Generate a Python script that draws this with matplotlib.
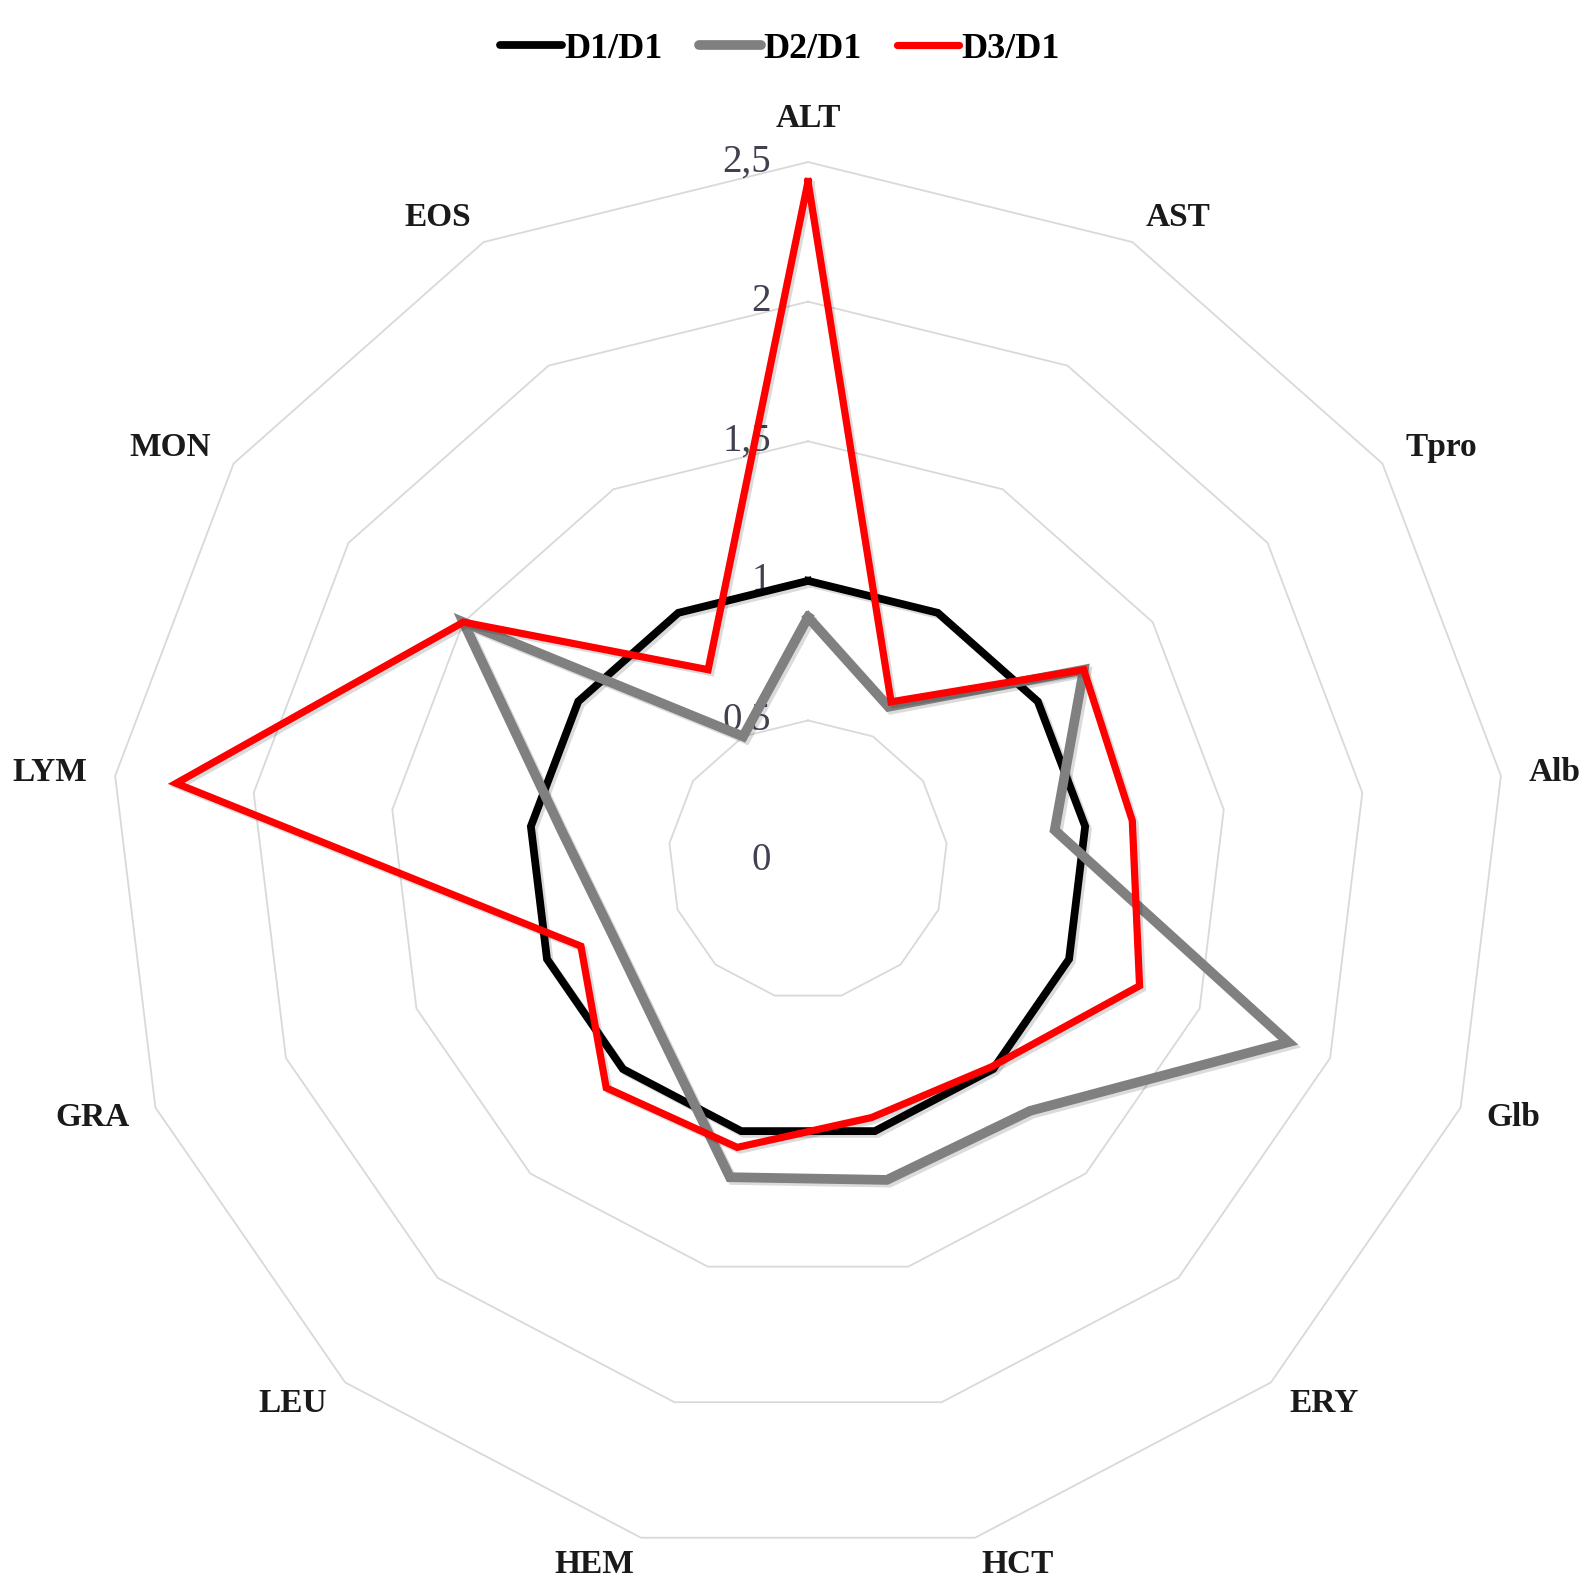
import matplotlib
matplotlib.use('Agg')
import matplotlib.pyplot as plt
import matplotlib.patheffects as pe
from matplotlib import transforms
from matplotlib.lines import Line2D
import numpy as np

# 데이터
categories = ['ALT', 'AST', 'Tpro', 'Alb', 'Glb', 'ERY', 'HCT',
              'HEM', 'LEU', 'GRA', 'LYM', 'MON', 'EOS']
d1_d1 = [1.0, 1.0, 1.0, 1.0, 1.0, 1.0, 1.0, 1.0, 1.0, 1.0, 1.0, 1.0, 1.0]
d2_d1 = [0.87, 0.62, 1.20, 0.89, 1.84, 1.20, 1.18, 1.17, 0.81, 0.75, 0.89, 1.50, 0.50]
d3_d1 = [2.43, 0.64, 1.20, 1.17, 1.27, 0.99, 0.95, 1.06, 1.09, 0.87, 2.28, 1.50, 0.77]
series_names = ['D1/D1', 'D2/D1', 'D3/D1']
r_ticks = [0, 0.5, 1, 1.5, 2, 2.5]
r_tick_labels = ['0', '0,5', '1', '1,5', '2', '2,5']

serif = ['Liberation Serif', 'DejaVu Serif']

fig = plt.figure(figsize=(15.95, 15.89), dpi=100)
ax = fig.add_axes([0.069, 0.0195, 0.8752, 0.8785], projection='polar')
ax.set_theta_zero_location('N')
ax.set_theta_direction(-1)
ax.set_ylim(0, 2.5)
ax.grid(False)
ax.set_xticks([])
ax.set_yticks([])
ax.spines['polar'].set_visible(False)

n = len(categories)
theta = np.linspace(0, 2 * np.pi, n, endpoint=False)
theta_c = np.append(theta, theta[0])

# 다각형 그리드
for r in r_ticks[1:]:
    ax.plot(theta_c, [r] * (n + 1), color='#d9d9d9', lw=1.3, zorder=1, clip_on=False)

# 눈금 라벨
off = transforms.offset_copy(ax.transData, fig=fig, x=-37, y=0, units='dots')
for r, lab in zip(r_ticks, r_tick_labels):
    ax.text(0, r, lab, transform=off, ha='right', va='center', fontsize=28,
            family=serif, color='#404050', zorder=2)

# 시리즈 (엑셀 스타일 그림자)
shadow = [pe.SimpleLineShadow(offset=(2, -2), shadow_color='black', alpha=0.14), pe.Normal()]
styles = [('#000000', 5.6), ('#808080', 7.0), ('#ff0000', 5.2)]
for vals, (col, lw) in zip([d1_d1, d2_d1, d3_d1], styles):
    v = np.append(vals, vals[0])
    ax.plot(theta_c, v, color=col, lw=lw, solid_joinstyle='miter', zorder=3,
            clip_on=False, path_effects=shadow)

# 카테고리 라벨
for t, lab in zip(theta, categories):
    c, s = np.sin(t), np.cos(t)
    ha = 'left' if c > 0.1 else 'right' if c < -0.1 else 'center'
    va = 'bottom' if s > 0.99 else 'center'
    ax.text(t, 2.6, lab, ha=ha, va=va, fontsize=24, fontweight='bold',
            family=serif, color='#1a1a1a')

# 범례
handles = [Line2D([0], [0], color=col, lw=lw, solid_capstyle='round')
           for col, lw in styles]
fig.legend(handles, series_names, loc='upper center', bbox_to_anchor=(0.489, 1.0),
           ncol=3, frameon=False, handlelength=1.72, handletextpad=0.06,
           columnspacing=1.0, prop={'family': serif, 'weight': 'bold', 'size': 26})

plt.savefig('out.png', dpi=100)
plt.close()
